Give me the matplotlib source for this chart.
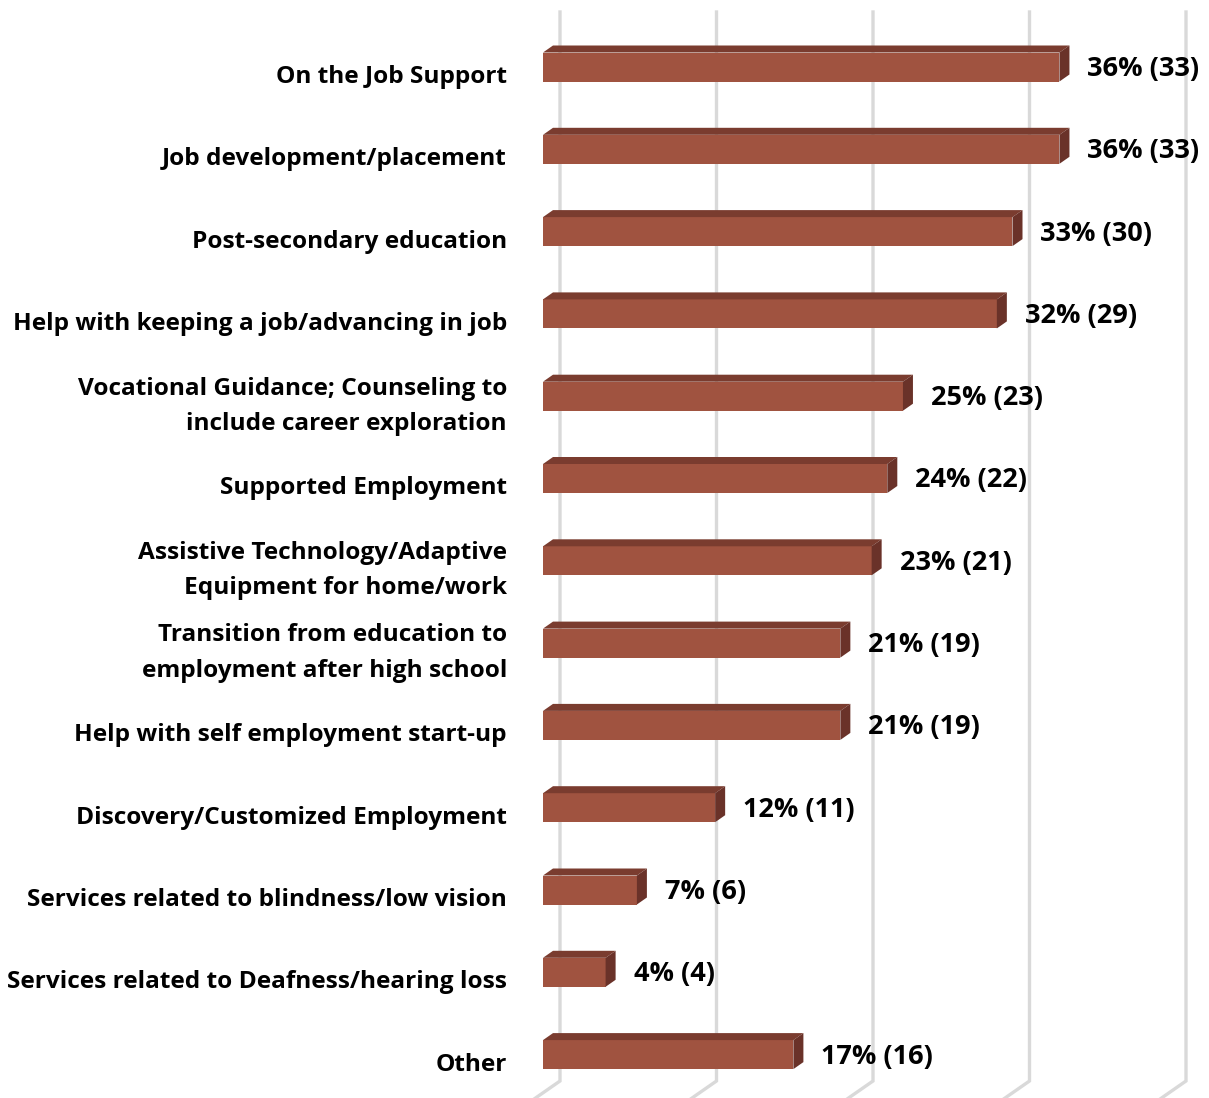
import matplotlib.pyplot as plt
from matplotlib.patches import Polygon

plt.rcParams['font.family'] = ['Open Sans', 'DejaVu Sans']

categories = [
    "On the Job Support",
    "Job development/placement",
    "Post-secondary education",
    "Help with keeping a job/advancing in job",
    "Vocational Guidance; Counseling to\ninclude career exploration",
    "Supported Employment",
    "Assistive Technology/Adaptive\nEquipment for home/work",
    "Transition from education to\nemployment after high school",
    "Help with self employment start-up",
    "Discovery/Customized Employment",
    "Services related to blindness/low vision",
    "Services related to Deafness/hearing loss",
    "Other",
]
counts = [33, 33, 30, 29, 23, 22, 21, 19, 19, 11, 6, 4, 16]
percents = [36, 36, 33, 32, 25, 24, 23, 21, 21, 12, 7, 4, 17]
grid_values = [0, 10, 20, 30, 40]

front = "#A05340"
top = "#7A3C2F"
side = "#6A3229"
grid_color = "#D9D9D9"

W, H = 1209, 1098
fig = plt.figure(figsize=(W / 100, H / 100), dpi=100)
ax = fig.add_axes([0, 0, 1, 1])

# pixel scale of the plot area: x in counts, y in category slots
px_per_x = 15.65
px_per_y = 82.3
x0_px = 543
y0_px = 67
ax.set_xlim(-x0_px / px_per_x, (W - x0_px) / px_per_x)
ax.set_ylim((H - y0_px) / px_per_y, -y0_px / px_per_y)
ax.axis("off")

def dx(p):
    return p / px_per_x

def dy(p):
    return p / px_per_y

# back wall gridlines with the floor edge running towards the viewer
wall_dx = dx(17)
top_y = dy(12 - y0_px)
floor_y = dy(1081 - y0_px)
for v in grid_values:
    xb = v + wall_dx
    ax.plot([xb, xb, xb - dx(46)], [top_y, floor_y, floor_y + dy(32)],
            color=grid_color, lw=2.4, solid_joinstyle="miter", zorder=1)

# 3D bars: front face, top face and right side face
bh = dy(29)
ddx, ddy = dx(10), dy(7)
for i, c in enumerate(counts):
    y_top = i - bh / 2
    y_bot = i + bh / 2
    ax.add_patch(Polygon([(0, y_top), (c, y_top), (c, y_bot), (0, y_bot)],
                         closed=True, facecolor=front, edgecolor="none", zorder=3))
    ax.add_patch(Polygon([(0, y_top), (ddx, y_top - ddy), (c + ddx, y_top - ddy), (c, y_top)],
                         closed=True, facecolor=top, edgecolor="none", zorder=3))
    ax.add_patch(Polygon([(c, y_top), (c + ddx, y_top - ddy), (c + ddx, y_bot - ddy), (c, y_bot)],
                         closed=True, facecolor=side, edgecolor="none", zorder=3))
    ax.text(c + ddx + dx(18), i + dy(2), f"{percents[i]}% ({c})", ha="left", va="center",
            fontsize=19.5, fontweight="bold", color="black", zorder=4)
    ax.text(dx(507 - x0_px), i + dy(10), categories[i], ha="right", va="center",
            fontsize=17.6, fontweight="bold", color="black", linespacing=1.63, zorder=4)

fig.savefig("out.png", dpi=100, facecolor="white")
